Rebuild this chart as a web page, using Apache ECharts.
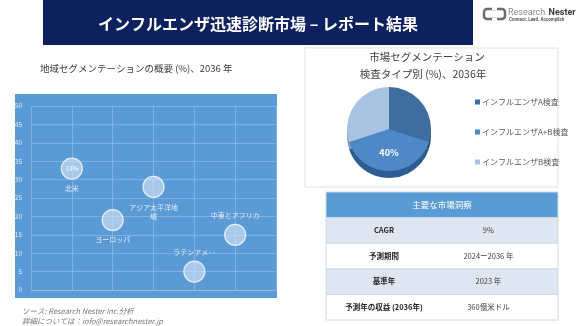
<!DOCTYPE html>
<html><head><meta charset="utf-8">
<script src="https://cdn.jsdelivr.net/npm/echarts@6/dist/echarts.min.js"></script>
<style>html,body{margin:0;padding:0;background:#fff}#c{width:580px;height:326px}</style>
</head><body><div id="c"></div>
<script>
// ---- data ----
const regionNames = ['北米', 'ヨーロッパ', 'アジア太平洋地域', 'ラテンアメリカ', '中東とアフリカ'];
const regionX = [1, 2, 3, 4, 5];
const regionShare = [33, 19, 28, 5, 15];
const pieNames = ['インフルエンザA検査', 'インフルエンザA+B検査', 'インフルエンザB検査'];
const pieValues = [30, 40, 30];
const tableHeader = '主要な市場洞察';
const tableKeys = ['CAGR', '予測期間', '基準年', '予測年の収益 (2036年)'];
const tableVals = ['9%', '2024ー2036 年', '2023 年', '360億米ドル'];

const FONT = "'Noto Sans CJK JP', 'Noto Sans', sans-serif";
const NARROW = "Roboto, 'Liberation Sans', sans-serif";
const chart = echarts.init(document.getElementById('c'), null, {renderer: 'canvas'});

const labelAbove = {'ラテンアメリカ': true, '中東とアフリカ': true};
const scatterData = regionNames.map((n, i) => {
  const lab = {position: labelAbove[n] ? 'top' : 'bottom'};
  if (n === 'アジア太平洋地域') { lab.width = 50; lab.overflow = 'break'; lab.lineHeight = 9; }
  if (n === 'ラテンアメリカ') { lab.width = 45; lab.overflow = 'truncate'; lab.ellipsis = '‥'; }
  return {name: n, value: [regionX[i], regionShare[i]], label: lab};
});
const valueLabelData = regionNames.map((n, i) => ({
  name: n, value: [regionX[i], regionShare[i]],
  label: {show: i === 0}
}));

// table cells
const tableRows = ['h'].concat(tableKeys.map((k, i) => 'r' + i));
const cellData = [{value: [0, 0]}];
const cellText = [tableHeader];
tableKeys.forEach((k, i) => {
  cellData.push({value: [0, i + 1]}); cellText.push(k);
  cellData.push({value: [1, i + 1]}); cellText.push(tableVals[i]);
});

const pieColors = ['#3d6e9f', '#4f88c6', '#a9c4e3'];
const pieSide = ['#2b5582', '#2d5d93', '#7f9fc6'];

const option = {
  animation: false,
  textStyle: {fontFamily: FONT},
  graphic: [
    {type: 'rect', z: -10, shape: {x: 43, y: 0, width: 430, height: 45}, style: {fill: '#0c215e'}},
    {type: 'text', x: 258, y: 24, style: {text: 'インフルエンザ迅速診断市場 – レポート結果', fill: '#fff', fontSize: 16, fontWeight: 'bold', fontFamily: FONT, align: 'center', verticalAlign: 'middle'}},
    // logo
    {type: 'rect', shape: {x: 484, y: 9, width: 21, height: 10, r: 3}, style: {fill: 'none', stroke: '#6d6d6d', lineWidth: 2.5}},
    {type: 'rect', shape: {x: 492, y: 6, width: 5, height: 4}, style: {fill: '#fff'}},
    {type: 'rect', shape: {x: 492, y: 18, width: 5, height: 4}, style: {fill: '#fff'}},
    {type: 'text', x: 508, y: 13, style: {text: '{a|Research} {b|Nester}', verticalAlign: 'middle', rich: {a: {fontSize: 9, fill: '#8a8a8a', fontFamily: NARROW}, b: {fontSize: 9, fontWeight: 'bold', fill: '#3a3a3a', fontFamily: NARROW}}}},
    {type: 'text', x: 509, y: 20, style: {text: 'Connect. Lead. Accomplish', fontSize: 4.5, fontWeight: 'bold', fill: '#555', verticalAlign: 'middle', fontFamily: NARROW}},
    // left title
    {type: 'text', x: 40, y: 68, style: {text: '地域セグメンテーションの概要 (%)、2036 年', fontSize: 9.5, fill: '#404040', fontFamily: FONT, verticalAlign: 'middle'}},
    // blue panel
    {type: 'rect', z: -10, shape: {x: 15, y: 94, width: 262, height: 204}, style: {fill: '#5b9bd5'}},
    // footer
    {type: 'text', x: 22, y: 311, style: {text: 'ソース: Research Nester Inc.分析', fontSize: 7.5, fontStyle: 'italic', fill: '#7a7a7a', fontFamily: FONT, verticalAlign: 'middle'}},
    {type: 'text', x: 22, y: 321, style: {text: '詳細については：info@researchnester.jp', fontSize: 7.5, fontStyle: 'italic', fill: '#7a7a7a', fontFamily: FONT, verticalAlign: 'middle'}},
    // pie panel
    {type: 'rect', z: -10, shape: {x: 305, y: 48, width: 253, height: 139}, style: {fill: '#fff', stroke: '#e2e2e2', lineWidth: 1}},
    {type: 'text', x: 427, y: 57, style: {text: '市場セグメンテーション', fontSize: 10.5, fill: '#404040', fontFamily: FONT, align: 'center', verticalAlign: 'middle'}},
    {type: 'text', x: 423, y: 74, style: {text: '検査タイプ別 (%)、2036年', fontSize: 10.5, fill: '#404040', fontFamily: FONT, align: 'center', verticalAlign: 'middle'}}
  ],
  grid: [
    {left: 31, right: 304, top: 106, bottom: 36},
    {left: 326, top: 192, width: 232, height: 128}
  ],
  xAxis: [
    {type: 'value', gridIndex: 0, min: 0, max: 6, interval: 1,
     axisLabel: {show: false}, axisTick: {show: false},
     axisLine: {show: true, lineStyle: {color: '#8dbbe6', width: 1}},
     splitLine: {show: true, lineStyle: {color: '#7fb1e0', width: 1}}},
    {type: 'category', gridIndex: 1, data: ['k', 'v'], show: false}
  ],
  yAxis: [
    {type: 'value', gridIndex: 0, min: 0, max: 50, interval: 5,
     axisLabel: {color: 'rgba(255,255,255,0.8)', fontSize: 6.5, margin: 9},
     axisTick: {show: false}, axisLine: {show: false},
     splitLine: {show: true, lineStyle: {color: '#7fb1e0', width: 1}}},
    {type: 'category', gridIndex: 1, data: tableRows, inverse: true, show: false}
  ],
  legend: {
    orient: 'vertical', left: 470, top: 93, itemGap: 22, itemWidth: 5, itemHeight: 5,
    icon: 'rect', data: pieNames,
    textStyle: {fontSize: 8, color: '#595959', fontFamily: FONT, padding: [0, 0, 0, -3]}
  },
  series: [
    {
      type: 'scatter', xAxisIndex: 0, yAxisIndex: 0, symbolSize: 21, z: 3,
      itemStyle: {color: 'rgba(225,236,248,0.72)', borderColor: '#ffffff', borderWidth: 1.2},
      label: {show: true, formatter: '{b}', color: '#fff', fontSize: 7, fontFamily: FONT},
      data: scatterData
    },
    {
      type: 'scatter', xAxisIndex: 0, yAxisIndex: 0, symbolSize: 21, z: 4, silent: true,
      itemStyle: {color: 'rgba(0,0,0,0)'},
      label: {position: 'inside', formatter: p => p.value[1] + '%', color: '#fff', fontSize: 6.5},
      data: valueLabelData
    },
    {
      type: 'pie', center: [389, 136], radius: 42, startAngle: 90, silent: true, z: 1,
      label: {show: false}, labelLine: {show: false}, legendHoverLink: false,
      itemStyle: {color: p => pieSide[p.dataIndex]},
      data: pieNames.map((n, i) => ({name: n + ' ', value: pieValues[i]}))
    },
    {
      type: 'pie', center: [389, 129], radius: 42, startAngle: 90, z: 2,
      itemStyle: {color: p => pieColors[p.dataIndex]},
      label: {show: true, position: 'inside', formatter: '{d}%', color: '#fff', fontSize: 9, fontWeight: 'bold'},
      labelLine: {show: false},
      data: pieNames.map((n, i) => ({name: n, value: pieValues[i], label: {show: i === 1}}))
    },
    {
      type: 'custom', xAxisIndex: 1, yAxisIndex: 1, silent: true,
      data: cellData,
      renderItem: function (params, api) {
        const col = api.value(0), row = api.value(1);
        const p = api.coord([col, row]);
        const s = api.size([1, 1]);
        const h = s[1];
        const y = p[1] - h / 2;
        const text = cellText[params.dataIndex];
        const children = [];
        if (col === 0) {
          const x = p[0] - s[0] / 2;
          const w = s[0] * 2;
          const fill = row === 0 ? '#5b9bd5' : (row % 2 === 1 ? '#dde6f1' : '#ffffff');
          children.push({type: 'rect', shape: {x: x, y: y, width: w, height: h}, style: {fill: fill, stroke: '#cfd9e5', lineWidth: 1}});
          if (row === 0) {
            children.push({type: 'text', style: {text: text, x: x + w / 2, y: y + h / 2, align: 'center', verticalAlign: 'middle', fill: '#fff', fontSize: 8.5, fontFamily: FONT}});
          } else {
            children.push({type: 'text', style: {text: text, x: p[0], y: y + h / 2, align: 'center', verticalAlign: 'middle', fill: '#262626', fontSize: 7.5, fontWeight: 'bold', fontFamily: FONT}});
          }
        } else {
          children.push({type: 'text', style: {text: text, x: p[0] - s[0] * 0.1, y: y + h / 2, align: 'center', verticalAlign: 'middle', fill: '#404040', fontSize: 7.5, fontFamily: FONT}});
        }
        return {type: 'group', children: children};
      }
    }
  ]
};
chart.setOption(option);
</script>
</body></html>
